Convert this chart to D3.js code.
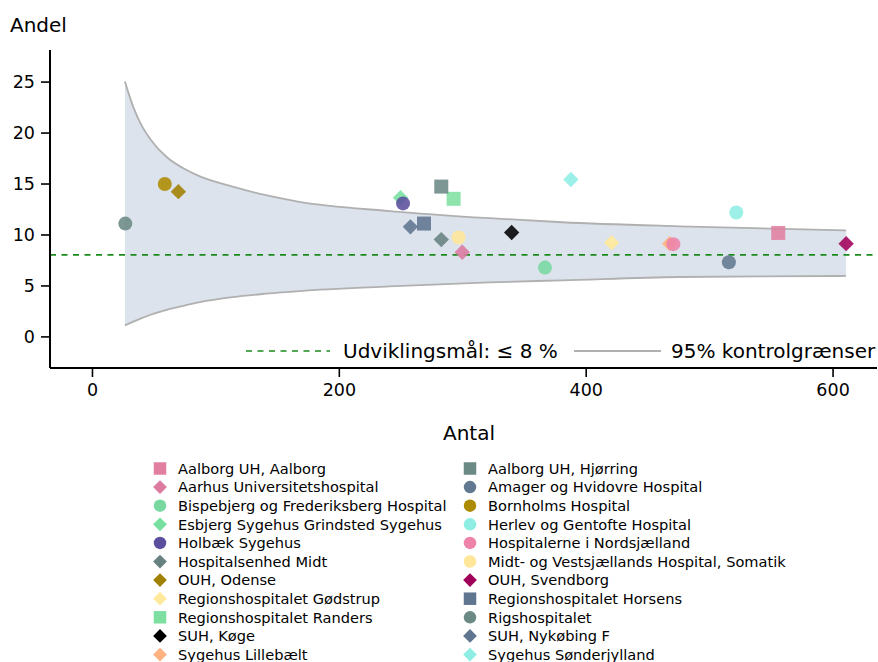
<!DOCTYPE html>
<html><head><meta charset="utf-8">
<script src="https://cdn.jsdelivr.net/npm/d3@7"></script>
<style>body{margin:0;background:#fff}svg{display:block;font-family:"DejaVu Sans",sans-serif}</style>
</head><body><svg id="c" width="878" height="662"></svg>
<script>
// ---- data ----
const hospitals = ["Aalborg UH, Aalborg","Aarhus Universitetshospital","Bispebjerg og Frederiksberg Hospital","Esbjerg Sygehus Grindsted Sygehus","Holbæk Sygehus","Hospitalsenhed Midt","OUH, Odense","Regionshospitalet Gødstrup","Regionshospitalet Randers","SUH, Køge","Sygehus Lillebælt","Aalborg UH, Hjørring","Amager og Hvidovre Hospital","Bornholms Hospital","Herlev og Gentofte Hospital","Hospitalerne i Nordsjælland","Midt- og Vestsjællands Hospital, Somatik","OUH, Svendborg","Regionshospitalet Horsens","Rigshospitalet","SUH, Nykøbing F","Sygehus Sønderjylland"];
const antal = [556,300,367,250,252,283,70,421,293,340,468,283,516,59,522,471,297,611,269,27,258,388];
const andel = [10.15,8.25,6.75,13.6,13.05,9.5,14.2,9.2,13.5,10.2,9.1,14.7,7.27,14.95,12.15,9.05,9.7,9.1,11.07,11.07,10.75,15.4];
const shapes = ["square","diamond","circle","diamond","circle","diamond","diamond","diamond","square","diamond","diamond","square","circle","circle","circle","circle","circle","diamond","square","circle","diamond","diamond"];
const colors = ["#e07fa0","#dc7aa0","#77d8a0","#77e0a0","#5b4f9e","#67817f","#a08000","#ffe99a","#7ee0a0","#000000","#ffb27f","#6b8a85","#627890","#ad8b00","#8eeee4","#ee82a8","#ffe699","#a0005a","#5f7590","#6b8a85","#5f7590","#8eeee4"];
const limitN     = [26.7,33.5,40.2,47,60.5,74,87.4,114,141,168,241,322,381,476,611];
const upperLimit = [25.0,22.5,20.7,19.4,17.6,16.5,15.7,14.7,13.85,13.2,12.3,11.6,11.2,10.8,10.4];
const lowerLimit = [1.08,1.45,1.8,2.1,2.6,3.0,3.37,3.86,4.19,4.45,4.9,5.3,5.5,5.83,5.93];
const target = 8;
const xTicks = [0,200,400,600];
const yTicks = [0,5,10,15,20,25];

// ---- chart ----
const svg = d3.select("#c");
const x = d3.scaleLinear().domain([-34,636]).range([50,877]);
const y = d3.scaleLinear().domain([-3.1,28.1]).range([368,50]);

const band = limitN.map((n,i)=>({n,u:upperLimit[i],l:lowerLimit[i]}));
svg.append("path").datum(band)
  .attr("fill","#dce3ec")
  .attr("d", d3.area().x(d=>x(d.n)).y0(d=>y(d.l)).y1(d=>y(d.u)).curve(d3.curveMonotoneX));
["u","l"].forEach(k=>{
  svg.append("path").datum(band).attr("fill","none").attr("stroke","#b0b0b0").attr("stroke-width",1.8)
    .attr("d", d3.line().x(d=>x(d.n)).y(d=>y(d[k])).curve(d3.curveMonotoneX));
});

// target line
svg.append("line").attr("x1",50).attr("x2",877).attr("y1",y(target)).attr("y2",y(target))
  .attr("stroke","#1a8a1a").attr("stroke-width",1.6).attr("stroke-dasharray","6,5.5");

function sym(shape, size){
  if(shape==="circle") return d3.symbol(d3.symbolCircle, Math.PI*size*size/4)();
  if(shape==="square") return d3.symbol(d3.symbolSquare, size*size)();
  const h=size*0.55; return `M0,${-h}L${h},0L0,${h}L${-h},0Z`;
}

// points
svg.append("g").selectAll("path").data(hospitals).join("path")
  .attr("transform",(d,i)=>`translate(${x(antal[i])},${y(andel[i])})`)
  .attr("d",(d,i)=>sym(shapes[i], 14))
  .attr("fill",(d,i)=>colors[i]).attr("fill-opacity",0.88);

// axes
const ax = svg.append("g").attr("transform","translate(0,368)")
  .call(d3.axisBottom(x).tickValues(xTicks).tickSize(9).tickPadding(7));
const ay = svg.append("g").attr("transform","translate(50,0)")
  .call(d3.axisLeft(y).tickValues(yTicks).tickSize(9).tickPadding(6));
[ax,ay].forEach(a=>{
  a.select(".domain").attr("stroke","#000").attr("stroke-width",2);
  a.selectAll(".tick line").attr("stroke","#000").attr("stroke-width",1.6);
  a.selectAll(".tick text").attr("font-size",17.5).attr("fill","#000").attr("font-family","DejaVu Sans");
});
ax.select(".domain").attr("d","M50,0H877");
ay.select(".domain").attr("d","M0,50V368");

svg.append("text").attr("x",10).attr("y",32).attr("font-size",20).text("Andel");
svg.append("text").attr("x",469).attr("y",440).attr("font-size",20).attr("text-anchor","middle").text("Antal");

// in-plot legend
svg.append("line").attr("x1",246).attr("x2",330).attr("y1",351).attr("y2",351)
  .attr("stroke","#1a8a1a").attr("stroke-width",1.6).attr("stroke-dasharray","6,5.5");
svg.append("text").attr("x",343).attr("y",358).attr("font-size",20).text("Udviklingsmål: ≤ 8 %");
svg.append("line").attr("x1",574).attr("x2",661).attr("y1",351).attr("y2",351)
  .attr("stroke","#b0b0b0").attr("stroke-width",1.8);
svg.append("text").attr("x",671).attr("y",358).attr("font-size",20).text("95% kontrolgrænser");

// bottom legend
const lg = svg.append("g");
hospitals.forEach((h,i)=>{
  const col = i<11?0:1, row = i%11;
  const mx = col?470:160, my = 468.5 + row*18.6;
  lg.append("path").attr("transform",`translate(${mx},${my})`).attr("d",sym(shapes[i],12.5)).attr("fill",colors[i]);
  lg.append("text").attr("x",mx+18).attr("y",my+5.2).attr("font-size",14.6).text(h);
});
</script></body></html>
